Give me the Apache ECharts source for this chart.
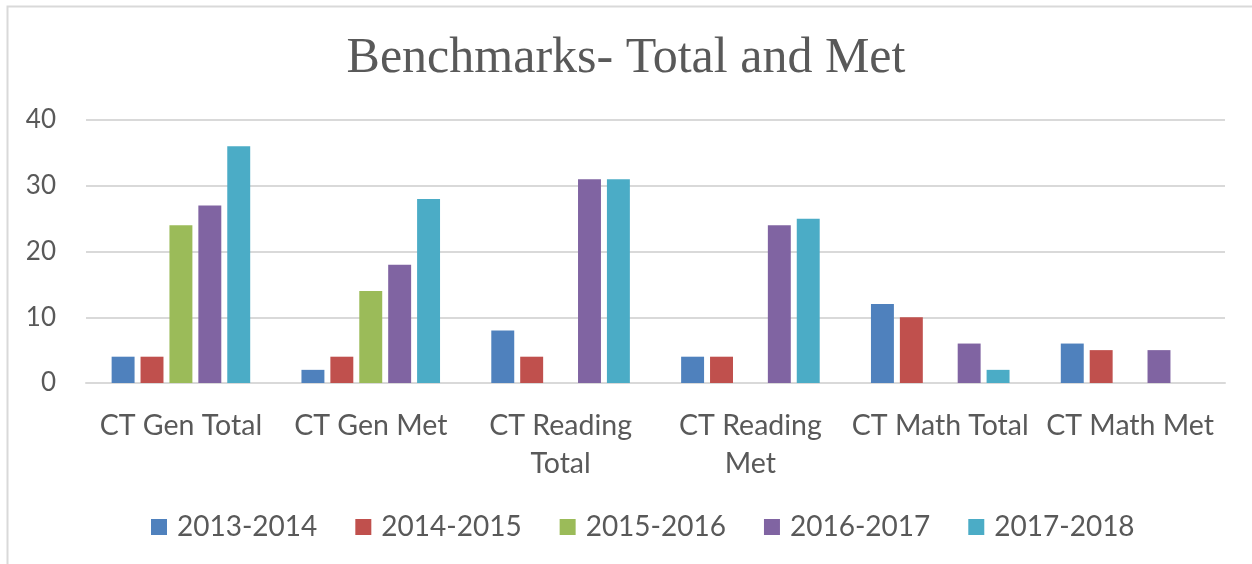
<!DOCTYPE html>
<html>
<head>
<meta charset="utf-8">
<script src="https://cdn.jsdelivr.net/npm/echarts@6/dist/echarts.min.js"></script>
<style>
  html, body { margin: 0; padding: 0; background: #fff; }
  #chart { width: 1252px; height: 564px; }
</style>
</head>
<body>
<div id="chart"></div>
<script>
// data
var categories = ['CT Gen Total', 'CT Gen Met', 'CT Reading Total', 'CT Reading Met', 'CT Math Total', 'CT Math Met']
var seriesNames = ['2013-2014', '2014-2015', '2015-2016', '2016-2017', '2017-2018']
var v2013 = [4, 2, 8, 4, 12, 6]
var v2014 = [4, 4, 4, 4, 10, 5]
var v2015 = [24, 14, null, null, null, null]
var v2016 = [27, 18, 31, 24, 6, 5]
var v2017 = [36, 28, 31, 25, 2, null]
var colors = ['#4F81BD', '#C0504D', '#9BBB59', '#8064A2', '#4BACC6']

var chart = echarts.init(document.getElementById('chart'))
var sans = 'Lato, "Noto Sans", sans-serif'
var values = [v2013, v2014, v2015, v2016, v2017]

var series = seriesNames.map(function (name, i) {
  return {
    name: name,
    type: 'bar',
    data: values[i],
    barGap: '26%',
    barCategoryGap: '27%',
    itemStyle: { color: colors[i] }
  }
})

var option = {
  animation: false,
  color: colors,
  title: {
    text: 'Benchmarks- Total and Met',
    left: 'center',
    top: 29,
    textStyle: {
      fontFamily: '"Liberation Serif", "Times New Roman", serif',
      fontWeight: 'normal',
      fontSize: 50,
      color: '#595959'
    }
  },
  graphic: [{
    type: 'rect',
    shape: { x: 7.5, y: 6.5, width: 1300, height: 600 },
    style: { fill: 'none', stroke: '#d9d9d9', lineWidth: 2 },
    silent: true
  }],
  grid: { left: 86, right: 27, top: 120, bottom: 181 },
  legend: {
    bottom: 18,
    left: 146,
    itemWidth: 16,
    itemHeight: 16,
    itemGap: 38,
    icon: 'rect',
    textStyle: { fontFamily: sans, fontSize: 28, color: '#595959', padding: [0, 0, 0, 5] },
    data: seriesNames
  },
  xAxis: {
    type: 'category',
    data: categories,
    axisLine: { lineStyle: { color: '#d9d9d9', width: 2 } },
    axisTick: { show: false },
    axisLabel: {
      fontFamily: sans,
      fontSize: 28.5,
      color: '#595959',
      margin: 24,
      lineHeight: 38,
      interval: 0,
      formatter: function (v) { return v.replace(/^(CT Reading) /, '$1\n') }
    }
  },
  yAxis: {
    type: 'value',
    min: 0,
    max: 40,
    interval: 10,
    axisLine: { show: false },
    axisTick: { show: false },
    splitLine: { lineStyle: { color: '#d9d9d9', width: 2 } },
    axisLabel: { fontFamily: sans, fontSize: 26, color: '#595959', margin: 30 }
  },
  series: series
}

option && chart.setOption(option)
</script>
</body>
</html>
